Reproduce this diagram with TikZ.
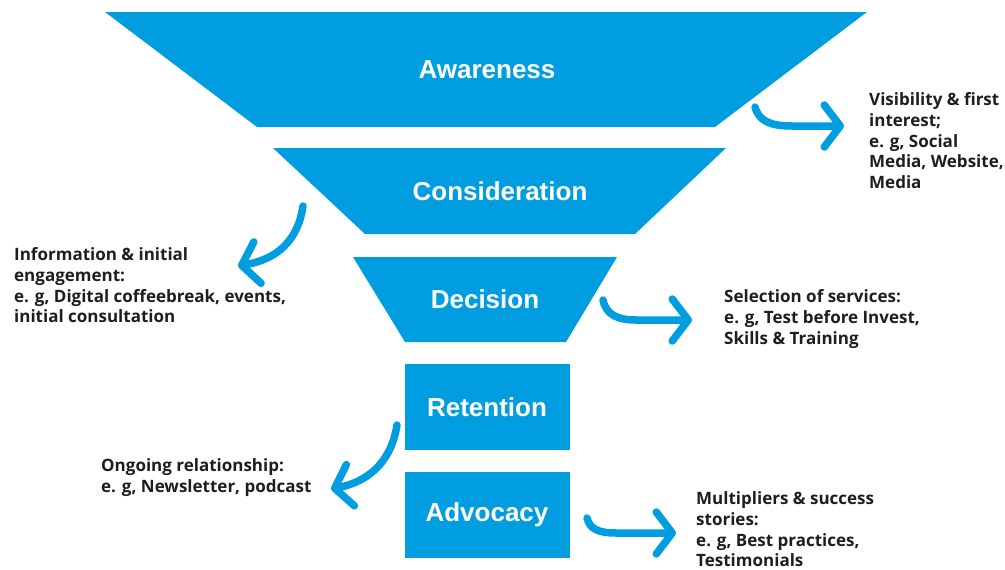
\documentclass[tikz,border=0pt]{standalone}
\usepackage{fontspec}
\setmainfont{Open Sans}
\newfontfamily\stagefont{Liberation Sans}
\usetikzlibrary{arrows.meta}
\definecolor{funnelblue}{RGB}{0,158,225}
\definecolor{labelink}{RGB}{30,30,30}
\tikzset{
  funnel/.style={fill=funnelblue},
  stage/.style={text=white, inner sep=0pt, font=\stagefont\bfseries\fontsize{26}{30}\selectfont},
  note/.style={text=labelink, inner sep=0pt, anchor=north west, align=left,
               font=\bfseries\fontsize{17}{20.7}\selectfont},
  flow/.style={draw=funnelblue, line width=7.5pt, line cap=round,
               -{Straight Barb[length=16pt,width=42pt,round]}}
}
\begin{document}
\begin{tikzpicture}[x=1pt,y=-1pt]
\useasboundingbox (0,0) rectangle (1005,570);

% funnel stages
\fill[funnel] (105,12) -- (867,12) -- (715,127) -- (257,127) -- cycle;
\fill[funnel] (273,148) -- (726,148) -- (635,234) -- (365,234) -- cycle;
\fill[funnel] (353,257) -- (617,257) -- (566,342) -- (405,342) -- cycle;
\fill[funnel] (405,364) rectangle (570,450);
\fill[funnel] (405,472) rectangle (570,558);

\node[stage] (aw) at (487,70) {Awareness};
\node[stage] (co) at (500,191) {Consideration};
\node[stage] (de) at (485,299) {Decision};
\node[stage] (re) at (487,407) {Retention};
\node[stage] (ad) at (487,515) {Advocacy};

% descriptions
\node[note] (awn) at (869,92.5) {Visibility \& first\\interest;\\e. g, Social\\Media, Website,\\Media};
\node[note] (con) at (14,247.5) {Information \& initial\\engagement:\\e. g, Digital coffeebreak, events,\\initial consultation};
\node[note] (den) at (724,289.5) {Selection of services:\\e. g, Test before Invest,\\Skills \& Training};
\node[note] (ren) at (101,458.5) {Ongoing relationship:\\e. g, Newsletter, podcast};
\node[note] (adn) at (696,491.5) {Multipliers \& success\\stories:\\e. g, Best practices,\\Testimonials};

% curved pointers
\coordinate (a1s) at (755,107);  \coordinate (a1e) at (844,126);
\coordinate (a2s) at (303,206);  \coordinate (a2e) at (238,266);
\coordinate (a3s) at (603,300);  \coordinate (a3e) at (692,320);
\coordinate (a4s) at (397,425);  \coordinate (a4e) at (331,489);
\coordinate (a5s) at (587,518);  \coordinate (a5e) at (676,533);

\draw[flow] (a1s) .. controls (759,122) and (772,126) .. (792,126) -- (a1e);
\draw[flow] (a2s) .. controls (298,240) and (278,259) .. (a2e);
\draw[flow] (a3s) .. controls (606,315) and (618,320) .. (636,320) -- (a3e);
\draw[flow] (a4s) .. controls (392,458) and (372,481) .. (a4e);
\draw[flow] (a5s) .. controls (590,530) and (600,533) .. (616,533) -- (a5e);
\end{tikzpicture}
\end{document}
